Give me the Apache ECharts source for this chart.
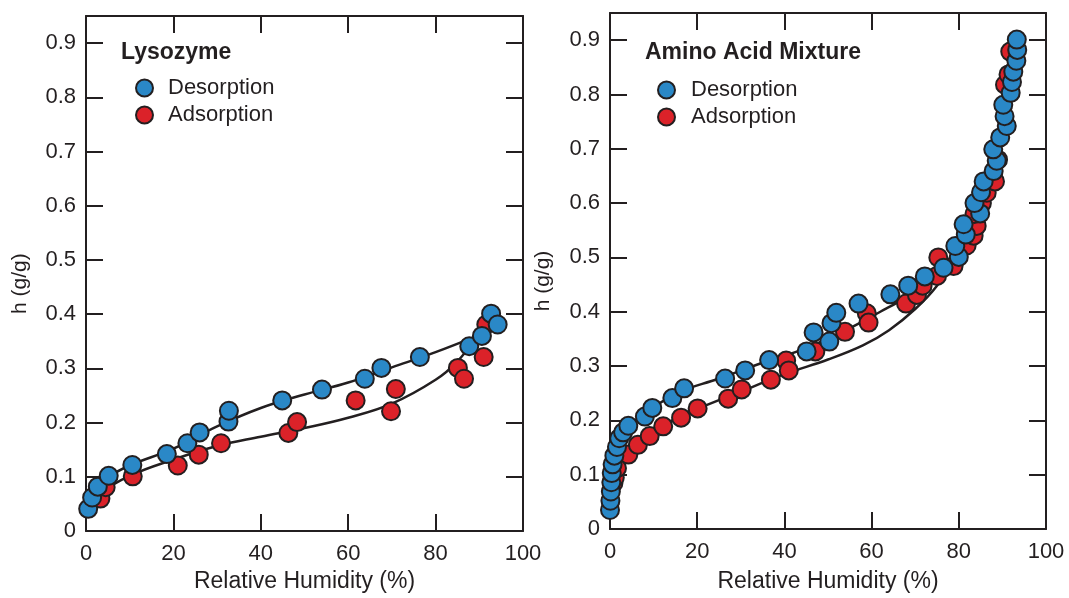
<!DOCTYPE html>
<html><head><meta charset="utf-8">
<script src="https://cdn.jsdelivr.net/npm/echarts@6/dist/echarts.min.js"></script>
<style>html,body{margin:0;padding:0;background:#fff}#c{width:1069px;height:598px}</style>
</head><body><div id="c"></div>
<script>
// ---- text ----
const panelTitles = ['Lysozyme', 'Amino Acid Mixture'];
const seriesNames = ['Desorption', 'Adsorption'];
const xAxisName = 'Relative Humidity (%)';
const yAxisName = 'h (g/g)';

// ---- Lysozyme: [RH %, h g/g] ----
const lysoDesorption = [[0.5,0.041],[1.4,0.062],[2.7,0.082],[5.2,0.102],[10.6,0.122],[18.5,0.142],[23.2,0.162],[26.0,0.182],[32.6,0.202],[32.7,0.222],[44.9,0.241],[54.0,0.261],[63.8,0.281],[67.6,0.301],[76.4,0.321],[87.7,0.341],[90.6,0.360],[92.7,0.401],[94.2,0.381]];
const lysoAdsorption = [[3.3,0.060],[4.5,0.081],[10.7,0.101],[21.0,0.121],[25.8,0.141],[30.9,0.162],[46.3,0.181],[48.3,0.201],[61.7,0.241],[69.8,0.221],[70.9,0.262],[85.1,0.301],[86.5,0.281],[91.0,0.321],[91.6,0.381]];
const lysoDesFit = [[0.2,0.047],[2.5,0.078],[5,0.099],[10,0.121],[20,0.152],[30,0.193],[40,0.227],[50,0.252],[60,0.274],[70,0.302],[80,0.330],[89.5,0.360]];
const lysoAdsFit = [[0.5,0.045],[3.3,0.070],[10,0.102],[20,0.132],[30,0.157],[40,0.174],[50,0.190],[60,0.209],[70,0.235],[80,0.279],[85,0.313],[89.5,0.360]];

// ---- Amino acid mixture: [RH %, h g/g] ----
const aaDesorption = [[0.0,0.035],[0.1,0.052],[0.2,0.069],[0.3,0.086],[0.4,0.103],[0.6,0.119],[1.0,0.135],[1.6,0.151],[2.1,0.167],[3.0,0.178],[4.2,0.190],[8.0,0.207],[9.7,0.223],[14.3,0.241],[17.0,0.259],[26.4,0.277],[31.0,0.292],[36.5,0.311],[45.1,0.327],[46.7,0.362],[50.3,0.345],[50.8,0.379],[51.9,0.398],[57.0,0.415],[64.3,0.432],[68.4,0.448],[72.2,0.465],[76.5,0.481],[80.0,0.501],[79.2,0.521],[81.6,0.542],[81.1,0.561],[84.9,0.581],[83.6,0.600],[85.1,0.620],[85.7,0.640],[88.0,0.659],[88.7,0.678],[87.9,0.699],[89.5,0.721],[91.0,0.742],[90.5,0.760],[90.2,0.781],[91.9,0.803],[92.2,0.823],[92.5,0.842],[93.2,0.862],[93.4,0.882],[93.3,0.901]];
const aaAdsorption = [[0.8,0.085],[1.1,0.095],[1.6,0.112],[4.2,0.137],[6.4,0.155],[9.1,0.171],[12.2,0.189],[16.3,0.205],[20.1,0.222],[27.1,0.240],[30.2,0.257],[36.9,0.275],[40.4,0.310],[41.0,0.292],[47.1,0.327],[53.9,0.363],[58.9,0.397],[59.3,0.380],[67.9,0.415],[70.4,0.431],[71.7,0.448],[75.0,0.466],[75.3,0.500],[78.8,0.484],[81.8,0.522],[83.4,0.540],[84.1,0.558],[83.6,0.580],[85.3,0.600],[86.4,0.619],[88.3,0.640],[89.0,0.680],[90.6,0.818],[91.4,0.837],[91.8,0.879]];
const aaDesFit = [[0.05,0.035],[0.3,0.090],[1,0.135],[2,0.160],[4,0.188],[8,0.212],[15,0.249],[25,0.277],[35,0.306],[45,0.333],[55,0.370],[62,0.400],[68,0.427],[74,0.461],[80,0.515],[85,0.600],[88.5,0.690],[91.3,0.790],[93.3,0.900]];
const aaAdsFit = [[0.2,0.040],[0.6,0.075],[1.2,0.100],[2.5,0.125],[4.5,0.145],[9,0.176],[15,0.203],[20,0.221],[30,0.253],[40,0.285],[50,0.312],[58,0.338],[64,0.366],[70,0.405],[75,0.448],[80,0.510],[85,0.600],[88.5,0.690],[91.3,0.790],[93.3,0.900]];

const panels = [
  { des: lysoDesorption, ads: lysoAdsorption, desFit: lysoDesFit, adsFit: lysoAdsFit },
  { des: aaDesorption, ads: aaAdsorption, desFit: aaDesFit, adsFit: aaAdsFit }
];

const INK = '#231f20', BLUE = '#2a88c7', RED = '#db2229';
const FONT = '"Liberation Sans", Arial, Helvetica, sans-serif';
const grids = [
  { left: 86, top: 16, width: 437, height: 518 },
  { left: 610, top: 13, width: 436, height: 518 }
];
const nameGapX = [38, 41];
const nameGapY = [55, 56];

const axisLineStyle = { show: true, onZero: false, lineStyle: { color: INK, width: 2 } };
const tickStyle = { show: true, inside: true, length: 17, lineStyle: { color: INK, width: 2 } };
const labelFont = { fontFamily: FONT, fontSize: 22, color: INK };

const xAxes = [], yAxes = [], series = [], titles = [], legends = [];
panels.forEach((p, i) => {
  xAxes.push({
    type: 'value', gridIndex: i, position: 'bottom', min: 0, max: 100, interval: 20,
    axisLine: axisLineStyle, axisTick: tickStyle, splitLine: { show: false },
    axisLabel: Object.assign({ margin: 12 }, labelFont),
    name: xAxisName, nameLocation: 'middle', nameGap: nameGapX[i],
    nameTextStyle: { fontFamily: FONT, fontSize: 23, color: INK }
  });
  xAxes.push({
    type: 'value', gridIndex: i, position: 'top', min: 0, max: 100, interval: 20,
    axisLine: axisLineStyle, axisTick: tickStyle, splitLine: { show: false },
    axisLabel: { show: false }
  });
  yAxes.push({
    type: 'value', gridIndex: i, position: 'left', min: 0, max: 0.95, interval: 0.1,
    axisLine: axisLineStyle, axisTick: tickStyle, splitLine: { show: false },
    axisLabel: Object.assign({ margin: 10, showMaxLabel: false,
      formatter: v => (v === 0 ? '0' : v.toFixed(1)) }, labelFont),
    name: yAxisName, nameLocation: 'middle', nameGap: nameGapY[i], nameRotate: 90,
    nameTextStyle: { fontFamily: FONT, fontSize: 21, color: INK, padding: [0, 20, 0, 0] }
  });
  yAxes.push({
    type: 'value', gridIndex: i, position: 'right', min: 0, max: 0.95, interval: 0.1,
    axisLine: axisLineStyle, axisTick: tickStyle, splitLine: { show: false },
    axisLabel: { show: false }
  });
  const xi = 2 * i, yi = 2 * i;
  [p.desFit, p.adsFit].forEach(fit => series.push({
    type: 'line', xAxisIndex: xi, yAxisIndex: yi, data: fit, showSymbol: false, symbol: 'none',
    smooth: 0.4, lineStyle: { color: INK, width: 2.5 }, z: 2, silent: true
  }));
  series.push({
    name: seriesNames[1], type: 'scatter', xAxisIndex: xi, yAxisIndex: yi, data: p.ads,
    symbol: 'circle', symbolSize: 18,
    itemStyle: { color: RED, borderColor: INK, borderWidth: 2, opacity: 1 }, z: 3
  });
  series.push({
    name: seriesNames[0], type: 'scatter', xAxisIndex: xi, yAxisIndex: yi, data: p.des,
    symbol: 'circle', symbolSize: 18,
    itemStyle: { color: BLUE, borderColor: INK, borderWidth: 2, opacity: 1 }, z: 4
  });
});

titles.push({ text: panelTitles[0], left: 121, top: 41, padding: 0,
  textStyle: { fontFamily: FONT, fontSize: 23, fontWeight: 'bold', color: INK } });
titles.push({ text: panelTitles[1], left: 645, top: 41, padding: 0,
  textStyle: { fontFamily: FONT, fontSize: 23, fontWeight: 'bold', color: INK } });

const legendBase = {
  orient: 'vertical', data: seriesNames, icon: 'circle', itemWidth: 17, itemHeight: 17,
  itemGap: 5, padding: 0, selectedMode: false,
  itemStyle: { borderColor: INK, borderWidth: 2 },
  textStyle: { fontFamily: FONT, fontSize: 22, color: INK }
};
legends.push(Object.assign({}, legendBase, { left: 135, top: 77,
  textStyle: Object.assign({}, legendBase.textStyle, { padding: [0, 0, 0, 10] }) }));
legends.push(Object.assign({}, legendBase, { left: 657, top: 79,
  textStyle: Object.assign({}, legendBase.textStyle, { padding: [0, 0, 0, 11] }) }));

const chart = echarts.init(document.getElementById('c'), null, { renderer: 'canvas' });
chart.setOption({
  backgroundColor: '#ffffff',
  animation: false,
  title: titles,
  legend: legends,
  grid: grids,
  xAxis: xAxes,
  yAxis: yAxes,
  series: series
});
</script></body></html>
